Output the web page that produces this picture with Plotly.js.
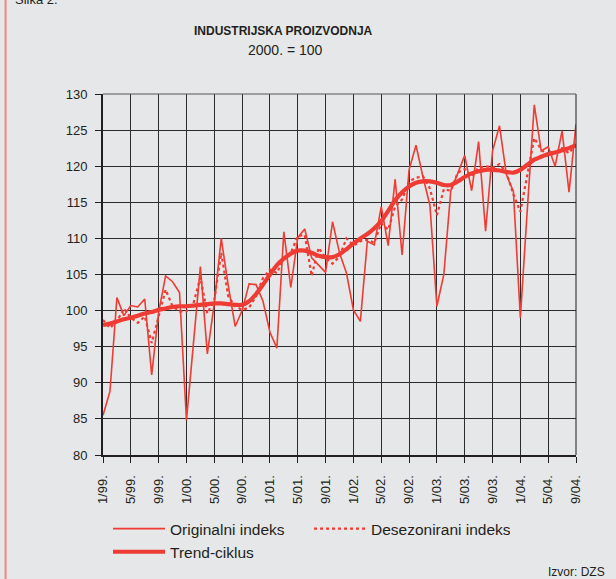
<!DOCTYPE html>
<html>
<head>
<meta charset="utf-8">
<script src="https://cdn.plot.ly/plotly-3.0.1.min.js"></script>
<style>
  html, body { margin: 0; padding: 0; background: #e6e7e8; }
  #chart { width: 616px; height: 579px; }
</style>
</head>
<body>
<div id="chart"></div>
<script>
// Monthly categories 1/99. ... 9/04.
const years = ['99', '00', '01', '02', '03', '04'];
const months = [];
years.forEach(function (y) {
  for (let m = 1; m <= 12; m++) {
    if (y === '04' && m > 9) break;
    months.push(m + '/' + y + '.');
  }
});
const tickLabels = ['1/99.', '5/99.', '9/99.', '1/00.', '5/00.', '9/00.', '1/01.', '5/01.', '9/01.',
  '1/02.', '5/02.', '9/02.', '1/03.', '5/03.', '9/03.', '1/04.', '5/04.', '9/04.'];

const originalni = [85.5, 88.8, 101.8, 99.3, 100.7, 100.5, 101.6, 91.1, 99.8, 104.8, 104.0, 102.5,
  84.8, 95.4, 106.1, 94.0, 101.0, 110.0, 103.5, 97.8, 100.0, 103.7, 103.6, 101.3,
  97.0, 94.8, 110.9, 103.2, 110.1, 111.3, 107.3, 106.3, 105.3, 112.3, 108.0, 105.2,
  100.1, 98.5, 109.6, 109.1, 114.4, 109.0, 118.2, 107.7, 119.5, 122.9, 118.5, 114.6,
  100.6, 105.0, 116.6, 119.0, 121.5, 116.6, 123.4, 111.0, 122.1, 125.6, 118.8, 116.5,
  99.0, 114.0, 128.5, 122.1, 122.7, 120.0, 124.9, 116.4, 125.8];

const desezonirani = [98.7, 97.6, 98.5, 100.3, 99.0, 98.3, 99.2, 95.5, 99.2, 102.9, 100.6, 99.9,
  99.9, 101.0, 104.6, 99.6, 101.5, 108.0, 102.0, 100.6, 100.1, 100.4, 102.0, 104.5,
  105.7, 105.2, 107.3, 108.0, 110.3, 110.5, 104.8, 108.7, 107.3, 106.5, 107.5, 110.0,
  109.0, 109.6, 109.8, 109.4, 112.1, 111.2, 114.4, 115.4, 117.9, 118.4, 118.6, 116.9,
  113.2, 116.8, 116.6, 119.1, 119.6, 118.6, 119.8, 120.0, 119.8, 120.3, 119.1, 116.1,
  113.7, 118.8, 123.9, 122.3, 121.4, 121.8, 122.5, 121.8, 123.0];

const trend = [98.0, 98.2, 98.5, 98.8, 99.0, 99.3, 99.6, 99.8, 100.1, 100.3, 100.5, 100.6,
  100.6, 100.7, 100.8, 100.9, 101.0, 101.0, 100.9, 100.8, 100.8, 101.3, 102.3, 103.6,
  105.0, 106.3, 107.2, 107.9, 108.3, 108.3, 108.0, 107.6, 107.4, 107.4, 107.8, 108.5,
  109.3, 110.0, 110.6, 111.4, 112.4, 113.8, 115.3, 116.4, 117.2, 117.7, 117.9, 117.9,
  117.7, 117.4, 117.4, 117.9, 118.5, 119.0, 119.3, 119.5, 119.5, 119.4, 119.2, 119.1,
  119.5, 120.2, 120.9, 121.3, 121.7, 121.9, 122.2, 122.5, 122.9];

const seriesNames = ['Originalni indeks', 'Desezonirani indeks', 'Trend-ciklus'];

const RED = '#ee3b33';
const INK = '#231f20';
const FONT = 'Liberation Sans, Arial, Helvetica, sans-serif';

const traces = [
  { type: 'scatter', mode: 'lines', name: seriesNames[0], x: months, y: originalni,
    line: { color: RED, width: 1.6 } },
  { type: 'scatter', mode: 'lines', name: seriesNames[1], x: months, y: desezonirani,
    line: { color: RED, width: 2.2, dash: 'dot' } },
  { type: 'scatter', mode: 'lines', name: seriesNames[2], x: months, y: trend,
    line: { color: RED, width: 4.2, shape: 'spline', smoothing: 0.8 } }
];

const layout = {
  width: 616, height: 579,
  paper_bgcolor: '#e6e7e8', plot_bgcolor: '#e6e7e8',
  margin: { l: 103, r: 40, t: 94, b: 124, autoexpand: false },
  font: { family: FONT, color: INK, size: 12 },
  showlegend: true,
  xaxis: {
    type: 'category', range: [0, months.length - 1],
    tickmode: 'array', tickvals: tickLabels, ticktext: tickLabels,
    tickangle: -90, tickfont: { family: FONT, size: 13, color: INK },
    ticks: 'outside', ticklen: 6, tickwidth: 1, tickcolor: INK, ticklabelstandoff: 7,
    showgrid: true, gridcolor: '#2b2b2b', gridwidth: 1,
    showline: true, linecolor: INK, linewidth: 2,
    zeroline: false, fixedrange: true
  },
  yaxis: {
    range: [80, 130], dtick: 5, tick0: 80,
    tickfont: { family: FONT, size: 13, color: INK },
    ticks: 'outside', ticklen: 6, tickwidth: 1, tickcolor: INK, ticklabelstandoff: 5,
    showgrid: true, gridcolor: '#2b2b2b', gridwidth: 1,
    showline: true, linecolor: INK, linewidth: 2,
    zeroline: false, fixedrange: true
  },
  legend: {
    orientation: 'h', xref: 'container', yref: 'container',
    x: 108 / 616, xanchor: 'left', y: 1 - 512 / 579, yanchor: 'top',
    bgcolor: 'rgba(0,0,0,0)', font: { family: FONT, size: 15.5, color: INK },
    itemwidth: 52, entrywidth: 134, traceorder: 'normal'
  },
  shapes: [
    { type: 'line', xref: 'paper', yref: 'paper', x0: -0.206, x1: -0.206, y0: -0.4, y1: 1.3,
      line: { color: '#ef8780', width: 2 } },
    { type: 'line', xref: 'paper', yref: 'paper', x0: 1, x1: 1, y0: 0, y1: 1,
      line: { color: INK, width: 1 } },
    { type: 'line', xref: 'paper', yref: 'paper', x0: 0, x1: 1, y0: 1, y1: 1,
      line: { color: '#555', width: 1 } }
  ],
  annotations: [
    { text: '<b>INDUSTRIJSKA PROIZVODNJA</b>', xref: 'paper', yref: 'paper',
      x: (283 - 103) / 473, y: (455 - 31) / 361, xanchor: 'center', yanchor: 'middle',
      showarrow: false, font: { family: FONT, size: 12, color: INK } },
    { text: '2000. = 100', xref: 'paper', yref: 'paper',
      x: (285 - 103) / 473, y: (455 - 50) / 361, xanchor: 'center', yanchor: 'middle',
      showarrow: false, font: { family: FONT, size: 14, color: INK } },
    { text: 'Slika 2.', xref: 'paper', yref: 'paper', x: -0.19, y: (455 + 1) / 361, xanchor: 'left', yanchor: 'middle',
      showarrow: false, font: { family: FONT, size: 13, color: INK } },
    { text: 'Izvor: DZS', xref: 'paper', yref: 'paper', x: (607 - 103) / 473, y: (455 - 572) / 361,
      xanchor: 'right', yanchor: 'middle',
      showarrow: false, font: { family: FONT, size: 12, color: INK } }
  ]
};

Plotly.newPlot('chart', traces, layout, { staticPlot: true, displayModeBar: false });
</script>
</body>
</html>
